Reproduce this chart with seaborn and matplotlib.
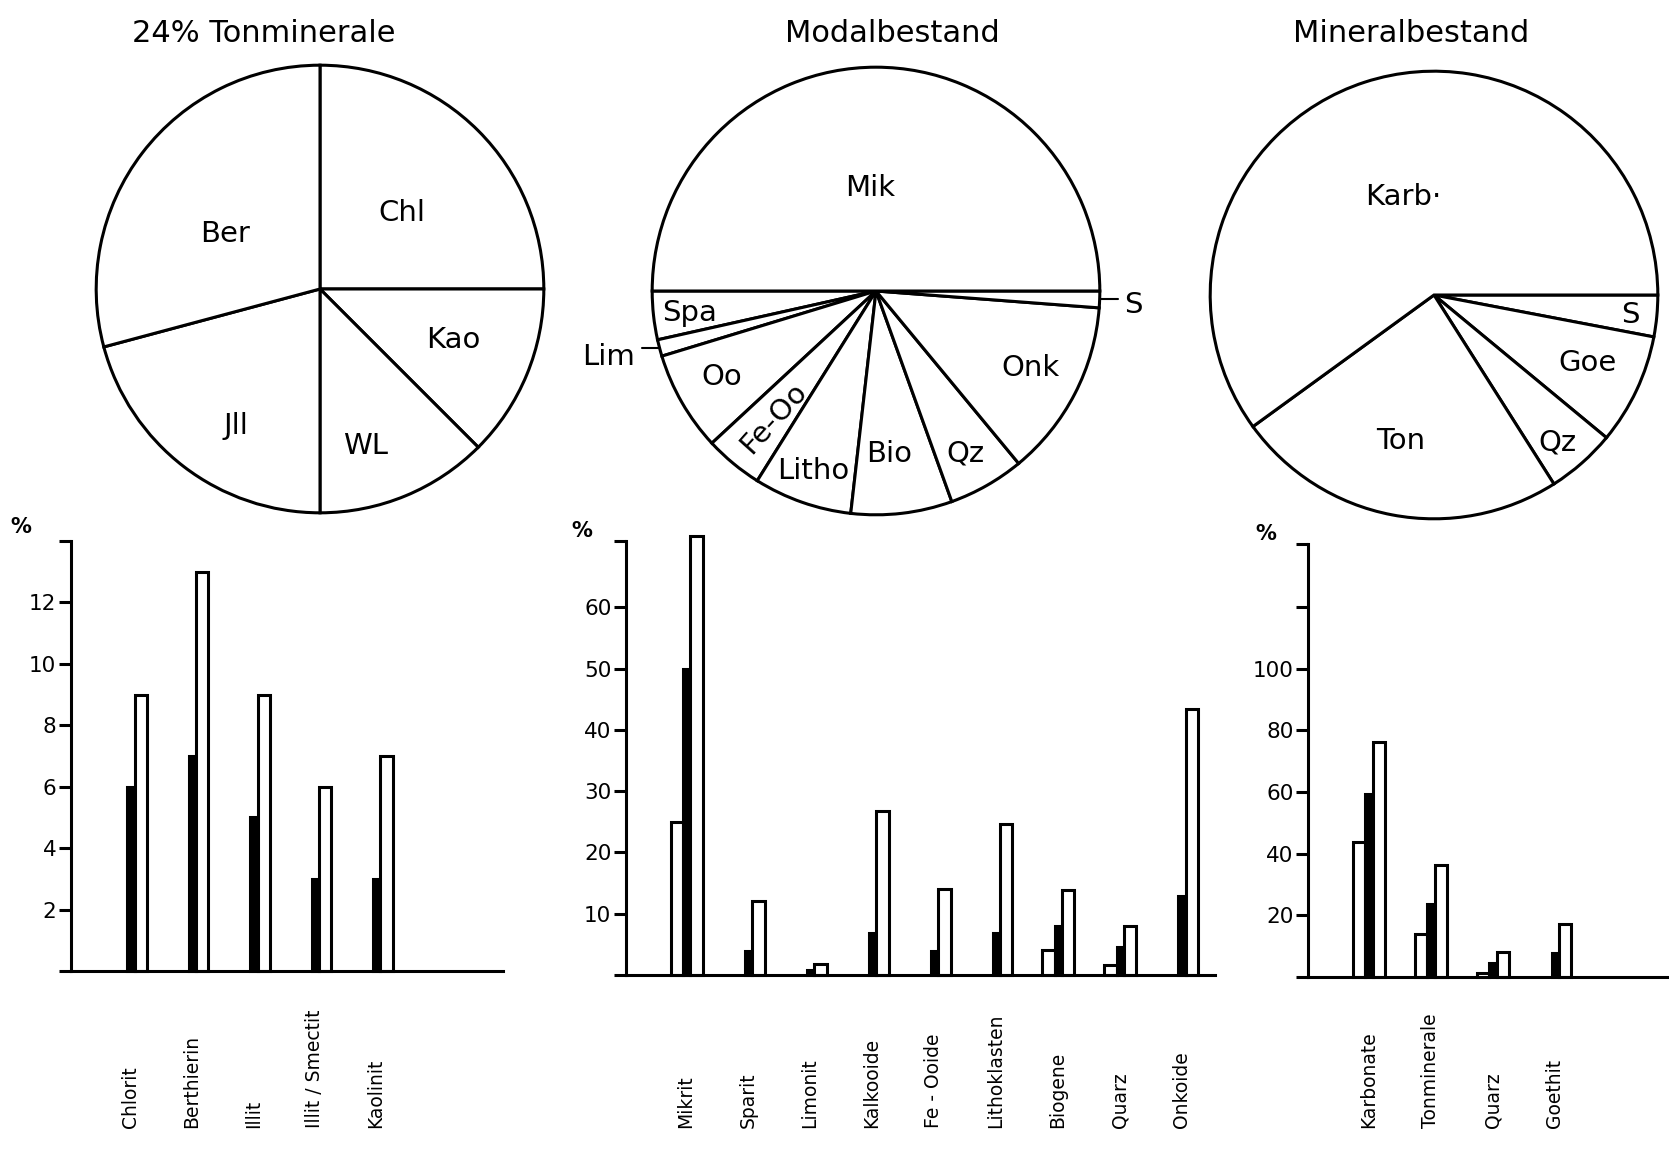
import numpy as np
import matplotlib
matplotlib.use("Agg")
import matplotlib.pyplot as plt
import matplotlib.transforms as mtransforms
import seaborn as sns

# pie data, listed in drawing order
TON_PIE_LABELS = ["Chl", "Kao", "WL", "Jll", "Ber"]
TON_PIE_VALUES = [6, 3, 3, 5, 7]

MODAL_PIE_LABELS = ["Spa", "Lim", "Oo", "Fe-Oo", "Litho", "Bio", "Qz", "Onk", "S", "Mik"]
MODAL_PIE_VALUES = [3.5, 1.2, 7.2, 4.2, 7.1, 7.3, 5.5, 12.8, 1.2, 50]

MINERAL_PIE_LABELS = ["S", "Goe", "Qz", "Ton", "Karb·"]
MINERAL_PIE_VALUES = [3, 8, 5, 24, 60]

# bar data: open bar (left), black bar (middle), open bar (right)
TON_CATS = ["Chlorit", "Berthierin", "Illit", "Illit / Smectit", "Kaolinit"]
TON_LOW = [0, 0, 0, 0, 0]
TON_MEAN = [6, 7, 5, 3, 3]
TON_HIGH = [9, 13, 9, 6, 7]

MODAL_CATS = ["Mikrit", "Sparit", "Limonit", "Kalkooide", "Fe - Ooide",
              "Lithoklasten", "Biogene", "Quarz", "Onkoide"]
MODAL_LOW = [25, 0, 0, 0, 0, 0, 4, 1.6, 0]
MODAL_MEAN = [50, 3.9, 0.8, 6.8, 3.9, 6.8, 8, 4.6, 12.9]
MODAL_HIGH = [71.6, 12, 1.8, 26.7, 14, 24.6, 13.8, 8, 43.4]

MINERAL_CATS = ["Karbonate", "Tonminerale", "Quarz", "Goethit"]
MINERAL_LOW = [43.8, 13.8, 1.4, 0]
MINERAL_MEAN = [59.4, 23.7, 4.6, 7.8]
MINERAL_HIGH = [76.3, 36.3, 8, 17.2]

TON_YTICKS = [2, 4, 6, 8, 10, 12]
MODAL_YTICKS = [10, 20, 30, 40, 50, 60]
MINERAL_YTICKS = [20, 40, 60, 80, 100]
MINERAL_BLANK_TICKS = [120]

W, H = 1669, 1152
LW = 2.2

sns.set_theme(style="ticks")
plt.rcParams["font.family"] = ["DejaVu Sans"]
plt.rcParams["axes.edgecolor"] = "black"
plt.rcParams["text.color"] = "black"
plt.rcParams["xtick.color"] = "black"
plt.rcParams["ytick.color"] = "black"

fig = plt.figure(figsize=(W / 100, H / 100), dpi=100)
fig.patch.set_facecolor("white")


def px_axes(left, top, right, bottom):
    return fig.add_axes([left / W, 1 - bottom / H, (right - left) / W, (bottom - top) / H])


def draw_pie(cx, cy, values, labels, start, clockwise, dists, shifts, rots, title, title_x):
    half = 235
    ax = px_axes(cx - half, cy - half, cx + half, cy + half)
    wedges, _ = ax.pie(values, startangle=start, counterclock=not clockwise,
                       colors=["white"] * len(values), radius=1,
                       wedgeprops=dict(edgecolor="black", linewidth=LW))
    for w, lab, d, s, r in zip(wedges, labels, dists, shifts, rots):
        mid = np.deg2rad((w.theta1 + w.theta2) / 2 + s)
        ax.text(d * np.cos(mid), d * np.sin(mid), lab, ha="center", va="center",
                fontsize=21, rotation=r, color="black")
        if d > 1:
            # short leader line for labels outside the circle
            m0 = np.deg2rad((w.theta1 + w.theta2) / 2)
            x0, y0 = np.cos(m0), np.sin(m0)
            ax.plot([x0, x0 + 0.08 * np.sign(x0)], [y0, y0], color="black", lw=1.5,
                    clip_on=False)
    ax.set_xlim(-1.05, 1.05)
    ax.set_ylim(-1.05, 1.05)
    fig.text(title_x / W, 1 - 33 / H, title, ha="center", va="center", fontsize=22)
    return ax


def draw_bars(box, cats, low, mean, high, ytop, yticks, xright, pct_off, blank=()):
    ax = px_axes(*box)
    idx = np.arange(len(cats))
    series = [(low, -0.22, 0.2, "white"), (mean, -0.06, 0.12, "black"), (high, 0.1, 0.2, "white")]
    for vals, off, wid, col in series:
        sns.barplot(x=idx + off, y=vals, native_scale=True, width=wid, color=col,
                    saturation=1, edgecolor="black", linewidth=LW, errorbar=None, ax=ax)
    for p in list(ax.patches):
        if p.get_height() <= 0:
            p.remove()
        else:
            p.set_clip_on(False)
    ax.set_xlim(-1.04, xright)
    ax.set_ylim(0, ytop)
    blank = list(blank)
    ax.set_yticks([0] + yticks + blank + [ytop])
    ax.set_yticklabels([""] + [str(t) for t in yticks] + [""] * len(blank) + [""],
                       fontsize=15.5)
    ax.set_xticks([])
    ax.set_xlabel("")
    ax.set_ylabel("")
    ax.tick_params(axis="y", direction="out", length=8.5, width=LW, pad=2, colors="black")
    sns.despine(ax=ax)
    for side in ["left", "bottom"]:
        ax.spines[side].set_linewidth(LW)
    ax.annotate("%", xy=(0, 1), xycoords="axes fraction", xytext=pct_off,
                textcoords="offset pixels", ha="center", va="center",
                fontsize=15, fontweight="bold")
    trans = mtransforms.blended_transform_factory(ax.transData, fig.transFigure)
    for i, c in enumerate(cats):
        ax.text(i - 0.07, 1 - 1128 / H, c, rotation=90, ha="center", va="bottom",
                fontsize=13.5, transform=trans)
    return ax


draw_pie(320, 289, TON_PIE_VALUES, TON_PIE_LABELS, 90, True,
         [0.5, 0.64, 0.73, 0.72, 0.49], [-2, 1.5, -6.3, 6, 7.5], [0] * 5,
         "24% Tonminerale", 264)
draw_pie(876, 291, MODAL_PIE_VALUES, MODAL_PIE_LABELS, 180, False,
         [0.84, 1.23, 0.79, 0.73, 0.85, 0.73, 0.83, 0.77, 1.15, 0.46],
         [0.5, -0.8, -0.6, 0.6, 0, -2, -1, 0.7, -1, 3],
         [0, 0, 0, 48, 0, 0, 0, 0, 0, 0], "Modalbestand", 892)
draw_pie(1434, 295, MINERAL_PIE_VALUES, MINERAL_PIE_LABELS, 0, True,
         [0.88, 0.75, 0.86, 0.67, 0.46], [-0.4, 1.4, -1.4, -2.2, -0.4], [0] * 5,
         "Mineralbestand", 1411)

draw_bars((71, 541, 503, 971), TON_CATS, TON_LOW, TON_MEAN, TON_HIGH,
          14, TON_YTICKS, 6.0, (-50, 14))
draw_bars((626, 541, 1215, 975), MODAL_CATS, MODAL_LOW, MODAL_MEAN, MODAL_HIGH,
          70.8, MODAL_YTICKS, 8.47, (-44, 10))
draw_bars((1308, 544, 1669, 977), MINERAL_CATS, MINERAL_LOW, MINERAL_MEAN, MINERAL_HIGH,
          140.5, MINERAL_YTICKS, 4.77, (-42, 10), MINERAL_BLANK_TICKS)

fig.savefig("out.png", dpi=100, facecolor="white")
